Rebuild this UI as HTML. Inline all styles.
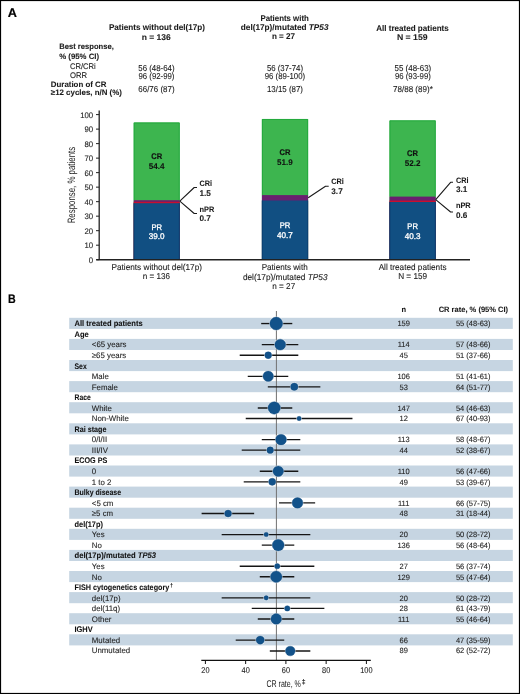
<!DOCTYPE html>
<html><head><meta charset="utf-8"><style>
html,body{margin:0;padding:0;background:#fff;}
body{width:520px;height:694px;overflow:hidden;}
svg{display:block;font-family:"Liberation Sans", sans-serif;text-rendering:geometricPrecision;will-change:transform;}
</style></head><body>
<svg width="520" height="694" viewBox="0 0 520 694">
<rect x="0.5" y="0.5" width="519" height="693" fill="none" stroke="#000" stroke-width="1.2"/>
<text x="7.70" y="17.00" font-size="12.6" font-weight="bold" fill="#000" textLength="9.20" lengthAdjust="spacingAndGlyphs" stroke="#000" stroke-width="0.2" >A</text>
<text x="8.00" y="302.90" font-size="12.3" font-weight="bold" fill="#000" textLength="7.70" lengthAdjust="spacingAndGlyphs" stroke="#000" stroke-width="0.2" >B</text>
<text x="156.95" y="30.40" font-size="8.4" font-weight="bold" text-anchor="middle" fill="#1a1a1a" textLength="96.10" lengthAdjust="spacingAndGlyphs" stroke="#1a1a1a" stroke-width="0.08" >Patients without del(17p)</text>
<text x="156.25" y="39.70" font-size="8.4" font-weight="bold" text-anchor="middle" fill="#1a1a1a" textLength="29.10" lengthAdjust="spacingAndGlyphs" stroke="#1a1a1a" stroke-width="0.08" >n = 136</text>
<text x="284.60" y="20.70" font-size="8.4" font-weight="bold" text-anchor="middle" fill="#1a1a1a" textLength="48.40" lengthAdjust="spacingAndGlyphs" stroke="#1a1a1a" stroke-width="0.08" >Patients with</text>
<text x="284.65" y="29.80" font-size="8.4" font-weight="bold" text-anchor="middle" fill="#1a1a1a" textLength="87.70" lengthAdjust="spacingAndGlyphs" stroke="#1a1a1a" stroke-width="0.08" >del(17p)/mutated <tspan font-style="italic">TP53</tspan></text>
<text x="283.45" y="39.30" font-size="8.4" font-weight="bold" text-anchor="middle" fill="#1a1a1a" textLength="23.10" lengthAdjust="spacingAndGlyphs" stroke="#1a1a1a" stroke-width="0.08" >n = 27</text>
<text x="412.50" y="30.70" font-size="8.4" font-weight="bold" text-anchor="middle" fill="#1a1a1a" textLength="72.60" lengthAdjust="spacingAndGlyphs" stroke="#1a1a1a" stroke-width="0.08" >All treated patients</text>
<text x="412.25" y="40.00" font-size="8.4" font-weight="bold" text-anchor="middle" fill="#1a1a1a" textLength="30.70" lengthAdjust="spacingAndGlyphs" stroke="#1a1a1a" stroke-width="0.08" >N = 159</text>
<text x="59.20" y="49.40" font-size="7.9" font-weight="bold" fill="#1a1a1a" textLength="54.60" lengthAdjust="spacingAndGlyphs" stroke="#1a1a1a" stroke-width="0.08" >Best response,</text>
<text x="59.20" y="58.50" font-size="7.9" font-weight="bold" fill="#1a1a1a" textLength="39.88" lengthAdjust="spacingAndGlyphs" stroke="#1a1a1a" stroke-width="0.08" >% (95% CI)</text>
<text x="69.90" y="69.30" font-size="8.2" fill="#1a1a1a" textLength="25.90" lengthAdjust="spacingAndGlyphs" stroke="#1a1a1a" stroke-width="0.1" >CR/CRi</text>
<text x="69.90" y="78.30" font-size="8.2" fill="#1a1a1a" textLength="17.11" lengthAdjust="spacingAndGlyphs" stroke="#1a1a1a" stroke-width="0.1" >ORR</text>
<text x="50.80" y="86.90" font-size="7.9" font-weight="bold" fill="#1a1a1a" textLength="55.70" lengthAdjust="spacingAndGlyphs" stroke="#1a1a1a" stroke-width="0.08" >Duration of CR</text>
<text x="50.80" y="95.40" font-size="7.9" font-weight="bold" fill="#1a1a1a" textLength="71.10" lengthAdjust="spacingAndGlyphs" stroke="#1a1a1a" stroke-width="0.08" >≥12 cycles, n/N (%)</text>
<text x="156.45" y="70.60" font-size="8.6" text-anchor="middle" fill="#1a1a1a" textLength="36.30" lengthAdjust="spacingAndGlyphs" stroke="#1a1a1a" stroke-width="0.1" >56 (48-64)</text>
<text x="156.45" y="79.40" font-size="8.6" text-anchor="middle" fill="#1a1a1a" textLength="35.99" lengthAdjust="spacingAndGlyphs" stroke="#1a1a1a" stroke-width="0.1" >96 (92-99)</text>
<text x="156.45" y="91.60" font-size="8.6" text-anchor="middle" fill="#1a1a1a" textLength="36.30" lengthAdjust="spacingAndGlyphs" stroke="#1a1a1a" stroke-width="0.1" >66/76 (87)</text>
<text x="284.95" y="70.60" font-size="8.6" text-anchor="middle" fill="#1a1a1a" textLength="36.10" lengthAdjust="spacingAndGlyphs" stroke="#1a1a1a" stroke-width="0.1" >56 (37-74)</text>
<text x="284.95" y="79.40" font-size="8.6" text-anchor="middle" fill="#1a1a1a" textLength="40.40" lengthAdjust="spacingAndGlyphs" stroke="#1a1a1a" stroke-width="0.1" >96 (89-100)</text>
<text x="284.95" y="91.60" font-size="8.6" text-anchor="middle" fill="#1a1a1a" textLength="36.00" lengthAdjust="spacingAndGlyphs" stroke="#1a1a1a" stroke-width="0.1" >13/15 (87)</text>
<text x="412.90" y="70.60" font-size="8.6" text-anchor="middle" fill="#1a1a1a" textLength="36.60" lengthAdjust="spacingAndGlyphs" stroke="#1a1a1a" stroke-width="0.1" >55 (48-63)</text>
<text x="412.90" y="79.40" font-size="8.6" text-anchor="middle" fill="#1a1a1a" textLength="35.99" lengthAdjust="spacingAndGlyphs" stroke="#1a1a1a" stroke-width="0.1" >96 (93-99)</text>
<text x="412.90" y="91.60" font-size="8.6" text-anchor="middle" fill="#1a1a1a" textLength="39.80" lengthAdjust="spacingAndGlyphs" stroke="#1a1a1a" stroke-width="0.1" >78/88 (89)*</text>
<rect x="133.7" y="122.5" width="46.00" height="137.20" fill="#3db54f"/>
<path d="M134.15,200.20 L134.15,122.95 L179.25,122.95 L179.25,200.20" fill="none" stroke="#20a83b" stroke-width="0.9"/>
<rect x="133.7" y="200.2" width="46.00" height="59.50" fill="#6a1f6f"/>
<rect x="133.7" y="201.8" width="46.00" height="57.90" fill="#c8102e"/>
<rect x="133.7" y="203.2" width="46.00" height="56.50" fill="#114f82"/>
<path d="M134.15,203.20 L134.15,259.00 M179.25,203.20 L179.25,259.00" fill="none" stroke="#0b3e70" stroke-width="0.9"/>
<rect x="261.9" y="119.0" width="46.20" height="140.70" fill="#3db54f"/>
<path d="M262.35,195.10 L262.35,119.45 L307.65,119.45 L307.65,195.10" fill="none" stroke="#20a83b" stroke-width="0.9"/>
<rect x="261.9" y="195.1" width="46.20" height="64.60" fill="#6a1f6f"/>
<rect x="261.9" y="200.5" width="46.20" height="59.20" fill="#114f82"/>
<path d="M262.35,200.50 L262.35,259.00 M307.65,200.50 L307.65,259.00" fill="none" stroke="#0b3e70" stroke-width="0.9"/>
<rect x="389.5" y="120.4" width="46.20" height="139.30" fill="#3db54f"/>
<path d="M389.95,196.60 L389.95,120.85 L435.25,120.85 L435.25,196.60" fill="none" stroke="#20a83b" stroke-width="0.9"/>
<rect x="389.5" y="196.6" width="46.20" height="63.10" fill="#6a1f6f"/>
<rect x="389.5" y="200.6" width="46.20" height="59.10" fill="#c8102e"/>
<rect x="389.5" y="202.0" width="46.20" height="57.70" fill="#114f82"/>
<path d="M389.95,202.00 L389.95,259.00 M435.25,202.00 L435.25,259.00" fill="none" stroke="#0b3e70" stroke-width="0.9"/>
<line x1="99.2" y1="110.5" x2="99.2" y2="259.7" stroke="#222" stroke-width="1.3"/>
<line x1="96.3" y1="259.7" x2="470" y2="259.7" stroke="#222" stroke-width="1.4"/>
<line x1="96" y1="259.70" x2="99.2" y2="259.70" stroke="#222" stroke-width="1"/>
<text x="93.20" y="262.60" font-size="8.0" text-anchor="end" fill="#222" textLength="4.34" lengthAdjust="spacingAndGlyphs" stroke="#222" stroke-width="0.1" >0</text>
<line x1="96" y1="245.19" x2="99.2" y2="245.19" stroke="#222" stroke-width="1"/>
<text x="93.20" y="248.09" font-size="8.0" text-anchor="end" fill="#222" textLength="8.68" lengthAdjust="spacingAndGlyphs" stroke="#222" stroke-width="0.1" >10</text>
<line x1="96" y1="230.68" x2="99.2" y2="230.68" stroke="#222" stroke-width="1"/>
<text x="93.20" y="233.58" font-size="8.0" text-anchor="end" fill="#222" textLength="8.68" lengthAdjust="spacingAndGlyphs" stroke="#222" stroke-width="0.1" >20</text>
<line x1="96" y1="216.17" x2="99.2" y2="216.17" stroke="#222" stroke-width="1"/>
<text x="93.20" y="219.07" font-size="8.0" text-anchor="end" fill="#222" textLength="8.68" lengthAdjust="spacingAndGlyphs" stroke="#222" stroke-width="0.1" >30</text>
<line x1="96" y1="201.66" x2="99.2" y2="201.66" stroke="#222" stroke-width="1"/>
<text x="93.20" y="204.56" font-size="8.0" text-anchor="end" fill="#222" textLength="8.68" lengthAdjust="spacingAndGlyphs" stroke="#222" stroke-width="0.1" >40</text>
<line x1="96" y1="187.15" x2="99.2" y2="187.15" stroke="#222" stroke-width="1"/>
<text x="93.20" y="190.05" font-size="8.0" text-anchor="end" fill="#222" textLength="8.68" lengthAdjust="spacingAndGlyphs" stroke="#222" stroke-width="0.1" >50</text>
<line x1="96" y1="172.64" x2="99.2" y2="172.64" stroke="#222" stroke-width="1"/>
<text x="93.20" y="175.54" font-size="8.0" text-anchor="end" fill="#222" textLength="8.68" lengthAdjust="spacingAndGlyphs" stroke="#222" stroke-width="0.1" >60</text>
<line x1="96" y1="158.13" x2="99.2" y2="158.13" stroke="#222" stroke-width="1"/>
<text x="93.20" y="161.03" font-size="8.0" text-anchor="end" fill="#222" textLength="8.68" lengthAdjust="spacingAndGlyphs" stroke="#222" stroke-width="0.1" >70</text>
<line x1="96" y1="143.62" x2="99.2" y2="143.62" stroke="#222" stroke-width="1"/>
<text x="93.20" y="146.52" font-size="8.0" text-anchor="end" fill="#222" textLength="8.68" lengthAdjust="spacingAndGlyphs" stroke="#222" stroke-width="0.1" >80</text>
<line x1="96" y1="129.11" x2="99.2" y2="129.11" stroke="#222" stroke-width="1"/>
<text x="93.20" y="132.01" font-size="8.0" text-anchor="end" fill="#222" textLength="8.68" lengthAdjust="spacingAndGlyphs" stroke="#222" stroke-width="0.1" >90</text>
<line x1="96" y1="114.60" x2="99.2" y2="114.60" stroke="#222" stroke-width="1"/>
<text x="93.20" y="117.50" font-size="8.0" text-anchor="end" fill="#222" textLength="13.01" lengthAdjust="spacingAndGlyphs" stroke="#222" stroke-width="0.1" >100</text>
<text x="0" y="0" font-size="10.7" fill="#222" text-anchor="middle" transform="translate(75.2,185.1) rotate(-90) scale(0.735,1)">Response, % patients</text>
<text x="156.70" y="158.80" font-size="8.1" font-weight="bold" text-anchor="middle" fill="#111" textLength="11.00" lengthAdjust="spacingAndGlyphs" stroke="#111" stroke-width="0.2" >CR</text>
<text x="156.70" y="168.50" font-size="8.3" font-weight="bold" text-anchor="middle" fill="#111" textLength="15.77" lengthAdjust="spacingAndGlyphs" stroke="#111" stroke-width="0.08" >54.4</text>
<text x="156.70" y="229.50" font-size="8.1" text-anchor="middle" fill="#fff" textLength="10.60" lengthAdjust="spacingAndGlyphs" stroke="#fff" stroke-width="0.3" >PR</text>
<text x="156.70" y="239.30" font-size="8.4" text-anchor="middle" fill="#fff" textLength="15.77" lengthAdjust="spacingAndGlyphs" stroke="#fff" stroke-width="0.3" >39.0</text>
<text x="285.00" y="155.00" font-size="8.1" font-weight="bold" text-anchor="middle" fill="#111" textLength="11.00" lengthAdjust="spacingAndGlyphs" stroke="#111" stroke-width="0.2" >CR</text>
<text x="285.00" y="164.60" font-size="8.3" font-weight="bold" text-anchor="middle" fill="#111" textLength="15.77" lengthAdjust="spacingAndGlyphs" stroke="#111" stroke-width="0.08" >51.9</text>
<text x="285.00" y="228.40" font-size="8.1" text-anchor="middle" fill="#fff" textLength="10.60" lengthAdjust="spacingAndGlyphs" stroke="#fff" stroke-width="0.3" >PR</text>
<text x="285.00" y="237.50" font-size="8.4" text-anchor="middle" fill="#fff" textLength="15.77" lengthAdjust="spacingAndGlyphs" stroke="#fff" stroke-width="0.3" >40.7</text>
<text x="412.60" y="156.30" font-size="8.1" font-weight="bold" text-anchor="middle" fill="#111" textLength="11.00" lengthAdjust="spacingAndGlyphs" stroke="#111" stroke-width="0.2" >CR</text>
<text x="412.60" y="165.80" font-size="8.3" font-weight="bold" text-anchor="middle" fill="#111" textLength="15.77" lengthAdjust="spacingAndGlyphs" stroke="#111" stroke-width="0.08" >52.2</text>
<text x="412.60" y="229.00" font-size="8.1" text-anchor="middle" fill="#fff" textLength="10.60" lengthAdjust="spacingAndGlyphs" stroke="#fff" stroke-width="0.3" >PR</text>
<text x="412.60" y="238.60" font-size="8.4" text-anchor="middle" fill="#fff" textLength="15.77" lengthAdjust="spacingAndGlyphs" stroke="#fff" stroke-width="0.3" >40.3</text>
<path d="M179.8,201.2 L194.2,187.5 L197,187.5" fill="none" stroke="#1a1a1a" stroke-width="1.1" stroke-linejoin="round"/>
<path d="M179.8,201.2 L194.2,213.5 L197,213.5" fill="none" stroke="#1a1a1a" stroke-width="1.1" stroke-linejoin="round"/>
<path d="M308.2,197.7 L325.5,186.3 L328.7,186.3" fill="none" stroke="#1a1a1a" stroke-width="1.1" stroke-linejoin="round"/>
<path d="M435.7,199.7 L450.6,182.3 L453,182.3" fill="none" stroke="#1a1a1a" stroke-width="1.1" stroke-linejoin="round"/>
<path d="M435.7,199.7 L450.6,212.0 L453,212.0" fill="none" stroke="#1a1a1a" stroke-width="1.1" stroke-linejoin="round"/>
<text x="199.50" y="186.10" font-size="7.8" font-weight="bold" fill="#1a1a1a" textLength="12.60" lengthAdjust="spacingAndGlyphs" stroke="#1a1a1a" stroke-width="0.08" >CRi</text>
<text x="199.50" y="196.00" font-size="8.2" font-weight="bold" fill="#1a1a1a" stroke="#1a1a1a" stroke-width="0.08" >1.5</text>
<text x="199.50" y="212.00" font-size="7.8" font-weight="bold" fill="#1a1a1a" textLength="14.80" lengthAdjust="spacingAndGlyphs" stroke="#1a1a1a" stroke-width="0.08" >nPR</text>
<text x="199.50" y="221.40" font-size="8.2" font-weight="bold" fill="#1a1a1a" stroke="#1a1a1a" stroke-width="0.08" >0.7</text>
<text x="331.30" y="184.40" font-size="7.8" font-weight="bold" fill="#1a1a1a" textLength="12.60" lengthAdjust="spacingAndGlyphs" stroke="#1a1a1a" stroke-width="0.08" >CRi</text>
<text x="331.30" y="194.00" font-size="8.2" font-weight="bold" fill="#1a1a1a" stroke="#1a1a1a" stroke-width="0.08" >3.7</text>
<text x="455.90" y="182.80" font-size="7.8" font-weight="bold" fill="#1a1a1a" textLength="12.60" lengthAdjust="spacingAndGlyphs" stroke="#1a1a1a" stroke-width="0.08" >CRi</text>
<text x="455.90" y="192.10" font-size="8.2" font-weight="bold" fill="#1a1a1a" stroke="#1a1a1a" stroke-width="0.08" >3.1</text>
<text x="455.90" y="207.90" font-size="7.8" font-weight="bold" fill="#1a1a1a" textLength="14.80" lengthAdjust="spacingAndGlyphs" stroke="#1a1a1a" stroke-width="0.08" >nPR</text>
<text x="455.90" y="217.70" font-size="8.2" font-weight="bold" fill="#1a1a1a" stroke="#1a1a1a" stroke-width="0.08" >0.6</text>
<text x="156.75" y="269.50" font-size="8.5" text-anchor="middle" fill="#1a1a1a" textLength="90.50" lengthAdjust="spacingAndGlyphs" stroke="#1a1a1a" stroke-width="0.1" >Patients without del(17p)</text>
<text x="156.30" y="279.20" font-size="8.5" text-anchor="middle" fill="#1a1a1a" textLength="27.20" lengthAdjust="spacingAndGlyphs" stroke="#1a1a1a" stroke-width="0.1" >n = 136</text>
<text x="284.70" y="270.00" font-size="8.5" text-anchor="middle" fill="#1a1a1a" textLength="46.00" lengthAdjust="spacingAndGlyphs" stroke="#1a1a1a" stroke-width="0.1" >Patients with</text>
<text x="285.20" y="279.60" font-size="8.5" text-anchor="middle" fill="#1a1a1a" textLength="84.60" lengthAdjust="spacingAndGlyphs" stroke="#1a1a1a" stroke-width="0.1" >del(17p)/mutated <tspan font-style="italic">TP53</tspan></text>
<text x="283.75" y="288.70" font-size="8.5" text-anchor="middle" fill="#1a1a1a" textLength="22.90" lengthAdjust="spacingAndGlyphs" stroke="#1a1a1a" stroke-width="0.1" >n = 27</text>
<text x="412.60" y="269.70" font-size="8.5" text-anchor="middle" fill="#1a1a1a" textLength="67.92" lengthAdjust="spacingAndGlyphs" stroke="#1a1a1a" stroke-width="0.1" >All treated patients</text>
<text x="412.60" y="279.30" font-size="8.5" text-anchor="middle" fill="#1a1a1a" textLength="28.95" lengthAdjust="spacingAndGlyphs" stroke="#1a1a1a" stroke-width="0.1" >N = 159</text>
<rect x="69.2" y="317.80" width="443.6" height="11.1" fill="#c6d5e2"/>
<rect x="69.2" y="338.90" width="443.6" height="11.1" fill="#c6d5e2"/>
<rect x="69.2" y="360.00" width="443.6" height="11.1" fill="#c6d5e2"/>
<rect x="69.2" y="381.10" width="443.6" height="11.1" fill="#c6d5e2"/>
<rect x="69.2" y="402.20" width="443.6" height="11.1" fill="#c6d5e2"/>
<rect x="69.2" y="423.30" width="443.6" height="11.1" fill="#c6d5e2"/>
<rect x="69.2" y="444.40" width="443.6" height="11.1" fill="#c6d5e2"/>
<rect x="69.2" y="465.50" width="443.6" height="11.1" fill="#c6d5e2"/>
<rect x="69.2" y="486.60" width="443.6" height="11.1" fill="#c6d5e2"/>
<rect x="69.2" y="507.70" width="443.6" height="11.1" fill="#c6d5e2"/>
<rect x="69.2" y="528.80" width="443.6" height="11.1" fill="#c6d5e2"/>
<rect x="69.2" y="549.90" width="443.6" height="11.1" fill="#c6d5e2"/>
<rect x="69.2" y="571.00" width="443.6" height="11.1" fill="#c6d5e2"/>
<rect x="69.2" y="592.10" width="443.6" height="11.1" fill="#c6d5e2"/>
<rect x="69.2" y="613.20" width="443.6" height="11.1" fill="#c6d5e2"/>
<rect x="69.2" y="634.30" width="443.6" height="11.1" fill="#c6d5e2"/>
<line x1="276.4" y1="311" x2="276.4" y2="660" stroke="#707070" stroke-width="1"/>
<text x="403.70" y="312.10" font-size="7.7" font-weight="bold" text-anchor="middle" fill="#1a1a1a" textLength="4.58" lengthAdjust="spacingAndGlyphs" stroke="#1a1a1a" stroke-width="0.08" >n</text>
<text x="473.40" y="312.10" font-size="7.7" font-weight="bold" text-anchor="middle" fill="#1a1a1a" textLength="69.50" lengthAdjust="spacingAndGlyphs" stroke="#1a1a1a" stroke-width="0.08" >CR rate, % (95% CI)</text>
<text x="74.50" y="326.30" font-size="8.1" font-weight="bold" fill="#111" textLength="68.20" lengthAdjust="spacingAndGlyphs" stroke="#111" stroke-width="0.08" >All treated patients</text>
<text x="403.70" y="326.30" font-size="7.7" text-anchor="middle" fill="#222" textLength="12.51" lengthAdjust="spacingAndGlyphs" stroke="#222" stroke-width="0.1" >159</text>
<text x="473.20" y="326.30" font-size="7.7" text-anchor="middle" fill="#222" textLength="34.60" lengthAdjust="spacingAndGlyphs" stroke="#222" stroke-width="0.1" >55 (48-63)</text>
<line x1="261.19" y1="323.55" x2="292.28" y2="323.55" stroke="#151515" stroke-width="1.35"/>
<text x="74.50" y="336.85" font-size="8.1" font-weight="bold" fill="#111" textLength="14.30" lengthAdjust="spacingAndGlyphs" stroke="#111" stroke-width="0.08" >Age</text>
<text x="91.80" y="347.40" font-size="8.0" fill="#1e1e1e" textLength="34.69" lengthAdjust="spacingAndGlyphs" stroke="#1e1e1e" stroke-width="0.1" >&lt;65 years</text>
<text x="403.70" y="347.40" font-size="7.7" text-anchor="middle" fill="#222" textLength="11.96" lengthAdjust="spacingAndGlyphs" stroke="#222" stroke-width="0.1" >114</text>
<text x="473.20" y="347.40" font-size="7.7" text-anchor="middle" fill="#222" textLength="34.60" lengthAdjust="spacingAndGlyphs" stroke="#222" stroke-width="0.1" >57 (48-66)</text>
<line x1="261.79" y1="344.65" x2="298.30" y2="344.65" stroke="#151515" stroke-width="1.35"/>
<text x="91.80" y="357.95" font-size="8.0" fill="#1e1e1e" textLength="34.42" lengthAdjust="spacingAndGlyphs" stroke="#1e1e1e" stroke-width="0.1" >≥65 years</text>
<text x="403.70" y="357.95" font-size="7.7" text-anchor="middle" fill="#222" textLength="8.34" lengthAdjust="spacingAndGlyphs" stroke="#222" stroke-width="0.1" >45</text>
<text x="473.20" y="357.95" font-size="7.7" text-anchor="middle" fill="#222" textLength="34.60" lengthAdjust="spacingAndGlyphs" stroke="#222" stroke-width="0.1" >51 (37-66)</text>
<line x1="239.72" y1="355.20" x2="298.30" y2="355.20" stroke="#151515" stroke-width="1.35"/>
<text x="74.50" y="368.50" font-size="8.1" font-weight="bold" fill="#111" textLength="12.20" lengthAdjust="spacingAndGlyphs" stroke="#111" stroke-width="0.08" >Sex</text>
<text x="91.80" y="379.05" font-size="8.0" fill="#1e1e1e" textLength="17.01" lengthAdjust="spacingAndGlyphs" stroke="#1e1e1e" stroke-width="0.1" >Male</text>
<text x="403.70" y="379.05" font-size="7.7" text-anchor="middle" fill="#222" textLength="12.51" lengthAdjust="spacingAndGlyphs" stroke="#222" stroke-width="0.1" >106</text>
<text x="473.20" y="379.05" font-size="7.7" text-anchor="middle" fill="#222" textLength="34.60" lengthAdjust="spacingAndGlyphs" stroke="#222" stroke-width="0.1" >51 (41-61)</text>
<line x1="247.75" y1="376.30" x2="288.27" y2="376.30" stroke="#151515" stroke-width="1.35"/>
<text x="91.80" y="389.60" font-size="8.0" fill="#1e1e1e" textLength="26.18" lengthAdjust="spacingAndGlyphs" stroke="#1e1e1e" stroke-width="0.1" >Female</text>
<text x="403.70" y="389.60" font-size="7.7" text-anchor="middle" fill="#222" textLength="8.34" lengthAdjust="spacingAndGlyphs" stroke="#222" stroke-width="0.1" >53</text>
<text x="473.20" y="389.60" font-size="7.7" text-anchor="middle" fill="#222" textLength="34.60" lengthAdjust="spacingAndGlyphs" stroke="#222" stroke-width="0.1" >64 (51-77)</text>
<line x1="267.81" y1="386.85" x2="320.36" y2="386.85" stroke="#151515" stroke-width="1.35"/>
<text x="74.50" y="400.15" font-size="8.1" font-weight="bold" fill="#111" textLength="16.20" lengthAdjust="spacingAndGlyphs" stroke="#111" stroke-width="0.08" >Race</text>
<text x="91.80" y="410.70" font-size="8.0" fill="#1e1e1e" textLength="20.07" lengthAdjust="spacingAndGlyphs" stroke="#1e1e1e" stroke-width="0.1" >White</text>
<text x="403.70" y="410.70" font-size="7.7" text-anchor="middle" fill="#222" textLength="12.51" lengthAdjust="spacingAndGlyphs" stroke="#222" stroke-width="0.1" >147</text>
<text x="473.20" y="410.70" font-size="7.7" text-anchor="middle" fill="#222" textLength="34.60" lengthAdjust="spacingAndGlyphs" stroke="#222" stroke-width="0.1" >54 (46-63)</text>
<line x1="257.78" y1="407.95" x2="292.28" y2="407.95" stroke="#151515" stroke-width="1.35"/>
<text x="91.80" y="421.25" font-size="8.0" fill="#1e1e1e" textLength="37.08" lengthAdjust="spacingAndGlyphs" stroke="#1e1e1e" stroke-width="0.1" >Non-White</text>
<text x="403.70" y="421.25" font-size="7.7" text-anchor="middle" fill="#222" textLength="8.34" lengthAdjust="spacingAndGlyphs" stroke="#222" stroke-width="0.1" >12</text>
<text x="473.20" y="421.25" font-size="7.7" text-anchor="middle" fill="#222" textLength="34.60" lengthAdjust="spacingAndGlyphs" stroke="#222" stroke-width="0.1" >67 (40-93)</text>
<line x1="245.74" y1="418.50" x2="352.46" y2="418.50" stroke="#151515" stroke-width="1.35"/>
<text x="74.50" y="431.80" font-size="8.1" font-weight="bold" fill="#111" textLength="31.90" lengthAdjust="spacingAndGlyphs" stroke="#111" stroke-width="0.08" >Rai stage</text>
<text x="91.80" y="442.35" font-size="8.0" fill="#1e1e1e" textLength="15.27" lengthAdjust="spacingAndGlyphs" stroke="#1e1e1e" stroke-width="0.1" >0/I/II</text>
<text x="403.70" y="442.35" font-size="7.7" text-anchor="middle" fill="#222" textLength="11.96" lengthAdjust="spacingAndGlyphs" stroke="#222" stroke-width="0.1" >113</text>
<text x="473.20" y="442.35" font-size="7.7" text-anchor="middle" fill="#222" textLength="34.60" lengthAdjust="spacingAndGlyphs" stroke="#222" stroke-width="0.1" >58 (48-67)</text>
<line x1="261.79" y1="439.60" x2="300.30" y2="439.60" stroke="#151515" stroke-width="1.35"/>
<text x="91.80" y="452.90" font-size="8.0" fill="#1e1e1e" textLength="16.14" lengthAdjust="spacingAndGlyphs" stroke="#1e1e1e" stroke-width="0.1" >III/IV</text>
<text x="403.70" y="452.90" font-size="7.7" text-anchor="middle" fill="#222" textLength="8.34" lengthAdjust="spacingAndGlyphs" stroke="#222" stroke-width="0.1" >44</text>
<text x="473.20" y="452.90" font-size="7.7" text-anchor="middle" fill="#222" textLength="34.60" lengthAdjust="spacingAndGlyphs" stroke="#222" stroke-width="0.1" >52 (38-67)</text>
<line x1="241.73" y1="450.15" x2="300.30" y2="450.15" stroke="#151515" stroke-width="1.35"/>
<text x="74.50" y="463.45" font-size="8.1" font-weight="bold" fill="#111" textLength="32.80" lengthAdjust="spacingAndGlyphs" stroke="#111" stroke-width="0.08" >ECOG PS</text>
<text x="91.80" y="474.00" font-size="8.0" fill="#1e1e1e" textLength="4.37" lengthAdjust="spacingAndGlyphs" stroke="#1e1e1e" stroke-width="0.1" >0</text>
<text x="403.70" y="474.00" font-size="7.7" text-anchor="middle" fill="#222" textLength="11.96" lengthAdjust="spacingAndGlyphs" stroke="#222" stroke-width="0.1" >110</text>
<text x="473.20" y="474.00" font-size="7.7" text-anchor="middle" fill="#222" textLength="34.60" lengthAdjust="spacingAndGlyphs" stroke="#222" stroke-width="0.1" >56 (47-66)</text>
<line x1="259.78" y1="471.25" x2="298.30" y2="471.25" stroke="#151515" stroke-width="1.35"/>
<text x="91.80" y="484.55" font-size="8.0" fill="#1e1e1e" textLength="19.64" lengthAdjust="spacingAndGlyphs" stroke="#1e1e1e" stroke-width="0.1" >1 to 2</text>
<text x="403.70" y="484.55" font-size="7.7" text-anchor="middle" fill="#222" textLength="8.34" lengthAdjust="spacingAndGlyphs" stroke="#222" stroke-width="0.1" >49</text>
<text x="473.20" y="484.55" font-size="7.7" text-anchor="middle" fill="#222" textLength="34.60" lengthAdjust="spacingAndGlyphs" stroke="#222" stroke-width="0.1" >53 (39-67)</text>
<line x1="243.73" y1="481.80" x2="300.30" y2="481.80" stroke="#151515" stroke-width="1.35"/>
<text x="74.50" y="495.10" font-size="8.1" font-weight="bold" fill="#111" textLength="46.60" lengthAdjust="spacingAndGlyphs" stroke="#111" stroke-width="0.08" >Bulky disease</text>
<text x="91.80" y="505.65" font-size="8.0" fill="#1e1e1e" textLength="21.60" lengthAdjust="spacingAndGlyphs" stroke="#1e1e1e" stroke-width="0.1" >&lt;5 cm</text>
<text x="403.70" y="505.65" font-size="7.7" text-anchor="middle" fill="#222" textLength="11.40" lengthAdjust="spacingAndGlyphs" stroke="#222" stroke-width="0.1" >111</text>
<text x="473.20" y="505.65" font-size="7.7" text-anchor="middle" fill="#222" textLength="34.60" lengthAdjust="spacingAndGlyphs" stroke="#222" stroke-width="0.1" >66 (57-75)</text>
<line x1="279.04" y1="502.90" x2="315.15" y2="502.90" stroke="#151515" stroke-width="1.35"/>
<text x="91.80" y="516.20" font-size="8.0" fill="#1e1e1e" textLength="21.32" lengthAdjust="spacingAndGlyphs" stroke="#1e1e1e" stroke-width="0.1" >≥5 cm</text>
<text x="403.70" y="516.20" font-size="7.7" text-anchor="middle" fill="#222" textLength="8.34" lengthAdjust="spacingAndGlyphs" stroke="#222" stroke-width="0.1" >48</text>
<text x="473.20" y="516.20" font-size="7.7" text-anchor="middle" fill="#222" textLength="34.60" lengthAdjust="spacingAndGlyphs" stroke="#222" stroke-width="0.1" >31 (18-44)</text>
<line x1="201.61" y1="513.45" x2="254.16" y2="513.45" stroke="#151515" stroke-width="1.35"/>
<text x="74.50" y="526.75" font-size="8.1" font-weight="bold" fill="#111" textLength="28.40" lengthAdjust="spacingAndGlyphs" stroke="#111" stroke-width="0.08" >del(17p)</text>
<text x="91.80" y="537.30" font-size="8.0" fill="#1e1e1e" textLength="12.81" lengthAdjust="spacingAndGlyphs" stroke="#1e1e1e" stroke-width="0.1" >Yes</text>
<text x="403.70" y="537.30" font-size="7.7" text-anchor="middle" fill="#222" textLength="8.34" lengthAdjust="spacingAndGlyphs" stroke="#222" stroke-width="0.1" >20</text>
<text x="473.20" y="537.30" font-size="7.7" text-anchor="middle" fill="#222" textLength="34.60" lengthAdjust="spacingAndGlyphs" stroke="#222" stroke-width="0.1" >50 (28-72)</text>
<line x1="221.67" y1="534.55" x2="310.33" y2="534.55" stroke="#151515" stroke-width="1.35"/>
<text x="91.80" y="547.85" font-size="8.0" fill="#1e1e1e" textLength="10.03" lengthAdjust="spacingAndGlyphs" stroke="#1e1e1e" stroke-width="0.1" >No</text>
<text x="403.70" y="547.85" font-size="7.7" text-anchor="middle" fill="#222" textLength="12.51" lengthAdjust="spacingAndGlyphs" stroke="#222" stroke-width="0.1" >136</text>
<text x="473.20" y="547.85" font-size="7.7" text-anchor="middle" fill="#222" textLength="34.60" lengthAdjust="spacingAndGlyphs" stroke="#222" stroke-width="0.1" >56 (48-64)</text>
<line x1="261.79" y1="545.10" x2="294.28" y2="545.10" stroke="#151515" stroke-width="1.35"/>
<text x="74.50" y="558.40" font-size="8.1" font-weight="bold" fill="#111" textLength="81.62" lengthAdjust="spacingAndGlyphs" stroke="#111" stroke-width="0.08" >del(17p)/mutated <tspan font-style="italic">TP53</tspan></text>
<text x="91.80" y="568.95" font-size="8.0" fill="#1e1e1e" textLength="12.81" lengthAdjust="spacingAndGlyphs" stroke="#1e1e1e" stroke-width="0.1" >Yes</text>
<text x="403.70" y="568.95" font-size="7.7" text-anchor="middle" fill="#222" textLength="8.34" lengthAdjust="spacingAndGlyphs" stroke="#222" stroke-width="0.1" >27</text>
<text x="473.20" y="568.95" font-size="7.7" text-anchor="middle" fill="#222" textLength="34.60" lengthAdjust="spacingAndGlyphs" stroke="#222" stroke-width="0.1" >56 (37-74)</text>
<line x1="239.72" y1="566.20" x2="314.34" y2="566.20" stroke="#151515" stroke-width="1.35"/>
<text x="91.80" y="579.50" font-size="8.0" fill="#1e1e1e" textLength="10.03" lengthAdjust="spacingAndGlyphs" stroke="#1e1e1e" stroke-width="0.1" >No</text>
<text x="403.70" y="579.50" font-size="7.7" text-anchor="middle" fill="#222" textLength="12.51" lengthAdjust="spacingAndGlyphs" stroke="#222" stroke-width="0.1" >129</text>
<text x="473.20" y="579.50" font-size="7.7" text-anchor="middle" fill="#222" textLength="34.60" lengthAdjust="spacingAndGlyphs" stroke="#222" stroke-width="0.1" >55 (47-64)</text>
<line x1="259.78" y1="576.75" x2="294.28" y2="576.75" stroke="#151515" stroke-width="1.35"/>
<text x="74.50" y="590.05" font-size="8.1" font-weight="bold" fill="#111" textLength="94.80" lengthAdjust="spacingAndGlyphs" stroke="#111" stroke-width="0.08" >FISH cytogenetics category</text>
<text x="170.00" y="586.85" font-size="5.5" font-weight="bold" fill="#111" stroke="#111" stroke-width="0.08" >†</text>
<text x="91.80" y="600.60" font-size="8.0" fill="#1e1e1e" textLength="28.80" lengthAdjust="spacingAndGlyphs" stroke="#1e1e1e" stroke-width="0.1" >del(17p)</text>
<text x="403.70" y="600.60" font-size="7.7" text-anchor="middle" fill="#222" textLength="8.34" lengthAdjust="spacingAndGlyphs" stroke="#222" stroke-width="0.1" >20</text>
<text x="473.20" y="600.60" font-size="7.7" text-anchor="middle" fill="#222" textLength="34.60" lengthAdjust="spacingAndGlyphs" stroke="#222" stroke-width="0.1" >50 (28-72)</text>
<line x1="221.67" y1="597.85" x2="310.33" y2="597.85" stroke="#151515" stroke-width="1.35"/>
<text x="91.80" y="611.15" font-size="8.0" fill="#1e1e1e" textLength="28.22" lengthAdjust="spacingAndGlyphs" stroke="#1e1e1e" stroke-width="0.1" >del(11q)</text>
<text x="403.70" y="611.15" font-size="7.7" text-anchor="middle" fill="#222" textLength="8.34" lengthAdjust="spacingAndGlyphs" stroke="#222" stroke-width="0.1" >28</text>
<text x="473.20" y="611.15" font-size="7.7" text-anchor="middle" fill="#222" textLength="34.60" lengthAdjust="spacingAndGlyphs" stroke="#222" stroke-width="0.1" >61 (43-79)</text>
<line x1="251.76" y1="608.40" x2="324.37" y2="608.40" stroke="#151515" stroke-width="1.35"/>
<text x="91.80" y="621.70" font-size="8.0" fill="#1e1e1e" textLength="19.63" lengthAdjust="spacingAndGlyphs" stroke="#1e1e1e" stroke-width="0.1" >Other</text>
<text x="403.70" y="621.70" font-size="7.7" text-anchor="middle" fill="#222" textLength="11.40" lengthAdjust="spacingAndGlyphs" stroke="#222" stroke-width="0.1" >111</text>
<text x="473.20" y="621.70" font-size="7.7" text-anchor="middle" fill="#222" textLength="34.60" lengthAdjust="spacingAndGlyphs" stroke="#222" stroke-width="0.1" >55 (46-64)</text>
<line x1="257.78" y1="618.95" x2="294.28" y2="618.95" stroke="#151515" stroke-width="1.35"/>
<text x="74.50" y="632.25" font-size="8.1" font-weight="bold" fill="#111" textLength="18.20" lengthAdjust="spacingAndGlyphs" stroke="#111" stroke-width="0.08" >IGHV</text>
<text x="91.80" y="642.80" font-size="8.0" fill="#1e1e1e" textLength="28.36" lengthAdjust="spacingAndGlyphs" stroke="#1e1e1e" stroke-width="0.1" >Mutated</text>
<text x="403.70" y="642.80" font-size="7.7" text-anchor="middle" fill="#222" textLength="8.34" lengthAdjust="spacingAndGlyphs" stroke="#222" stroke-width="0.1" >66</text>
<text x="473.20" y="642.80" font-size="7.7" text-anchor="middle" fill="#222" textLength="34.60" lengthAdjust="spacingAndGlyphs" stroke="#222" stroke-width="0.1" >47 (35-59)</text>
<line x1="235.71" y1="640.05" x2="284.25" y2="640.05" stroke="#151515" stroke-width="1.35"/>
<text x="91.80" y="653.35" font-size="8.0" fill="#1e1e1e" textLength="38.40" lengthAdjust="spacingAndGlyphs" stroke="#1e1e1e" stroke-width="0.1" >Unmutated</text>
<text x="403.70" y="653.35" font-size="7.7" text-anchor="middle" fill="#222" textLength="8.34" lengthAdjust="spacingAndGlyphs" stroke="#222" stroke-width="0.1" >89</text>
<text x="473.20" y="653.35" font-size="7.7" text-anchor="middle" fill="#222" textLength="34.60" lengthAdjust="spacingAndGlyphs" stroke="#222" stroke-width="0.1" >62 (52-72)</text>
<line x1="269.81" y1="651.00" x2="310.33" y2="651.00" stroke="#151515" stroke-width="1.35"/>
<circle cx="276.23" cy="323.55" r="7.06" fill="#fff" fill-opacity="0.75"/>
<circle cx="276.23" cy="323.55" r="6.46" fill="#12528a" stroke="#0e4a7e" stroke-width="0.4"/>
<circle cx="280.24" cy="344.65" r="6.07" fill="#fff" fill-opacity="0.75"/>
<circle cx="280.24" cy="344.65" r="5.47" fill="#12528a" stroke="#0e4a7e" stroke-width="0.4"/>
<circle cx="268.21" cy="355.20" r="4.03" fill="#fff" fill-opacity="0.75"/>
<circle cx="268.21" cy="355.20" r="3.43" fill="#12528a" stroke="#0e4a7e" stroke-width="0.4"/>
<circle cx="268.21" cy="376.30" r="5.87" fill="#fff" fill-opacity="0.75"/>
<circle cx="268.21" cy="376.30" r="5.27" fill="#12528a" stroke="#0e4a7e" stroke-width="0.4"/>
<circle cx="294.28" cy="386.85" r="4.33" fill="#fff" fill-opacity="0.75"/>
<circle cx="294.28" cy="386.85" r="3.73" fill="#12528a" stroke="#0e4a7e" stroke-width="0.4"/>
<circle cx="274.22" cy="407.95" r="6.81" fill="#fff" fill-opacity="0.75"/>
<circle cx="274.22" cy="407.95" r="6.21" fill="#12528a" stroke="#0e4a7e" stroke-width="0.4"/>
<circle cx="299.10" cy="418.50" r="2.80" fill="#fff" fill-opacity="0.75"/>
<circle cx="299.10" cy="418.50" r="2.20" fill="#12528a" stroke="#0e4a7e" stroke-width="0.4"/>
<circle cx="281.04" cy="439.60" r="6.04" fill="#fff" fill-opacity="0.75"/>
<circle cx="281.04" cy="439.60" r="5.44" fill="#12528a" stroke="#0e4a7e" stroke-width="0.4"/>
<circle cx="270.21" cy="450.15" r="4.00" fill="#fff" fill-opacity="0.75"/>
<circle cx="270.21" cy="450.15" r="3.40" fill="#12528a" stroke="#0e4a7e" stroke-width="0.4"/>
<circle cx="278.24" cy="471.25" r="5.97" fill="#fff" fill-opacity="0.75"/>
<circle cx="278.24" cy="471.25" r="5.37" fill="#12528a" stroke="#0e4a7e" stroke-width="0.4"/>
<circle cx="272.22" cy="481.80" r="4.18" fill="#fff" fill-opacity="0.75"/>
<circle cx="272.22" cy="481.80" r="3.58" fill="#12528a" stroke="#0e4a7e" stroke-width="0.4"/>
<circle cx="297.49" cy="502.90" r="5.99" fill="#fff" fill-opacity="0.75"/>
<circle cx="297.49" cy="502.90" r="5.39" fill="#12528a" stroke="#0e4a7e" stroke-width="0.4"/>
<circle cx="228.09" cy="513.45" r="4.15" fill="#fff" fill-opacity="0.75"/>
<circle cx="228.09" cy="513.45" r="3.55" fill="#12528a" stroke="#0e4a7e" stroke-width="0.4"/>
<circle cx="266.20" cy="534.55" r="2.89" fill="#fff" fill-opacity="0.75"/>
<circle cx="266.20" cy="534.55" r="2.29" fill="#12528a" stroke="#0e4a7e" stroke-width="0.4"/>
<circle cx="278.24" cy="545.10" r="6.57" fill="#fff" fill-opacity="0.75"/>
<circle cx="278.24" cy="545.10" r="5.97" fill="#12528a" stroke="#0e4a7e" stroke-width="0.4"/>
<circle cx="277.23" cy="566.20" r="3.26" fill="#fff" fill-opacity="0.75"/>
<circle cx="277.23" cy="566.20" r="2.66" fill="#12528a" stroke="#0e4a7e" stroke-width="0.4"/>
<circle cx="276.23" cy="576.75" r="6.42" fill="#fff" fill-opacity="0.75"/>
<circle cx="276.23" cy="576.75" r="5.82" fill="#12528a" stroke="#0e4a7e" stroke-width="0.4"/>
<circle cx="266.20" cy="597.85" r="2.89" fill="#fff" fill-opacity="0.75"/>
<circle cx="266.20" cy="597.85" r="2.29" fill="#12528a" stroke="#0e4a7e" stroke-width="0.4"/>
<circle cx="287.26" cy="608.40" r="3.31" fill="#fff" fill-opacity="0.75"/>
<circle cx="287.26" cy="608.40" r="2.71" fill="#12528a" stroke="#0e4a7e" stroke-width="0.4"/>
<circle cx="276.23" cy="618.95" r="5.99" fill="#fff" fill-opacity="0.75"/>
<circle cx="276.23" cy="618.95" r="5.39" fill="#12528a" stroke="#0e4a7e" stroke-width="0.4"/>
<circle cx="260.18" cy="640.05" r="4.76" fill="#fff" fill-opacity="0.75"/>
<circle cx="260.18" cy="640.05" r="4.16" fill="#12528a" stroke="#0e4a7e" stroke-width="0.4"/>
<circle cx="290.27" cy="651.00" r="5.43" fill="#fff" fill-opacity="0.75"/>
<circle cx="290.27" cy="651.00" r="4.83" fill="#12528a" stroke="#0e4a7e" stroke-width="0.4"/>
<line x1="201.3" y1="660.4" x2="370.8" y2="660.4" stroke="#111" stroke-width="1.2"/>
<line x1="205.40" y1="660.4" x2="205.40" y2="664" stroke="#111" stroke-width="1"/>
<text x="205.40" y="672.60" font-size="8.4" text-anchor="middle" fill="#222" textLength="8.22" lengthAdjust="spacingAndGlyphs" stroke="#222" stroke-width="0.1" >20</text>
<line x1="245.65" y1="660.4" x2="245.65" y2="664" stroke="#111" stroke-width="1"/>
<text x="245.65" y="672.60" font-size="8.4" text-anchor="middle" fill="#222" textLength="8.22" lengthAdjust="spacingAndGlyphs" stroke="#222" stroke-width="0.1" >40</text>
<line x1="285.90" y1="660.4" x2="285.90" y2="664" stroke="#111" stroke-width="1"/>
<text x="285.90" y="672.60" font-size="8.4" text-anchor="middle" fill="#222" textLength="8.22" lengthAdjust="spacingAndGlyphs" stroke="#222" stroke-width="0.1" >60</text>
<line x1="326.15" y1="660.4" x2="326.15" y2="664" stroke="#111" stroke-width="1"/>
<text x="326.15" y="672.60" font-size="8.4" text-anchor="middle" fill="#222" textLength="8.22" lengthAdjust="spacingAndGlyphs" stroke="#222" stroke-width="0.1" >80</text>
<line x1="366.40" y1="660.4" x2="366.40" y2="664" stroke="#111" stroke-width="1"/>
<text x="366.40" y="672.60" font-size="8.4" text-anchor="middle" fill="#222" textLength="12.33" lengthAdjust="spacingAndGlyphs" stroke="#222" stroke-width="0.1" >100</text>
<text x="0" y="0" font-size="9.8" fill="#222" transform="translate(266.4,686.8) scale(0.72,1)">CR rate, %</text>
<text x="301.80" y="684.20" font-size="6.8" fill="#222" stroke="#222" stroke-width="0.15" >‡</text>
</svg>
</body></html>
